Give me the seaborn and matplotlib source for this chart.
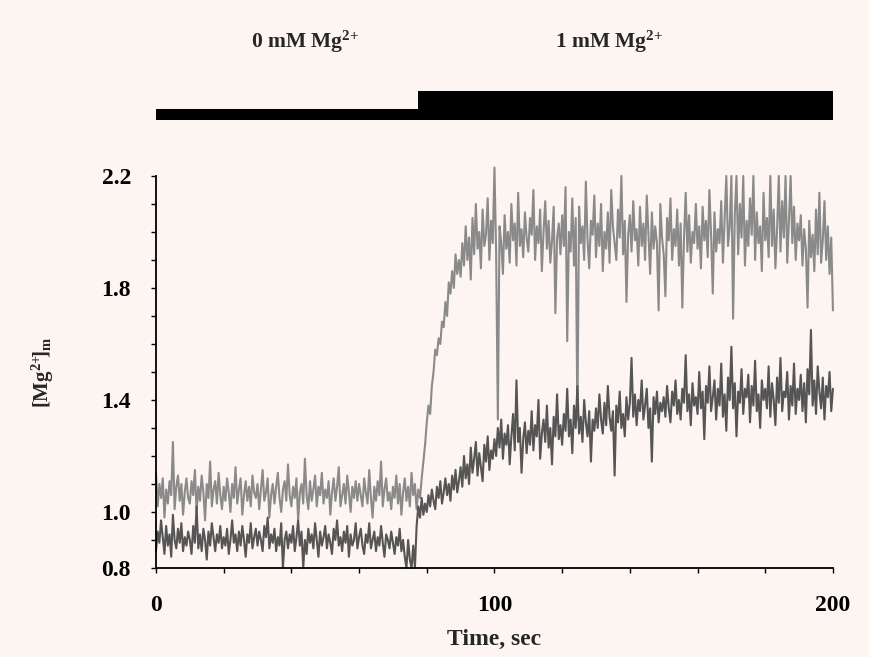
import matplotlib
matplotlib.use("Agg")
import matplotlib.pyplot as plt
import seaborn as sns
import numpy as np
import pandas as pd

# sampling: one reading every 0.5 s over 200 s
time_s = np.arange(0, 200.5, 0.5)

# upper (light) trace, [Mg2+]m
upper_trace = [
    1.14, 1.02, 1.10, 1.05, 1.12, 0.98, 1.08, 1.03, 1.11, 1.06, 1.25, 1.01, 1.09, 1.13, 1.04, 1.10, 0.99, 1.07, 1.12, 1.05,
    1.03, 1.11, 1.06, 1.15, 1.00, 1.09, 1.04, 1.13, 1.07, 0.97, 1.10, 1.05, 1.18, 1.02, 1.08, 1.11, 1.03, 1.14, 1.06, 1.01,
    1.09, 1.04, 1.12, 1.07, 1.00, 1.10, 1.05, 1.16, 1.03, 1.08, 1.12, 0.99, 1.06, 1.11, 1.04, 1.09, 1.02, 1.13, 1.07, 1.05,
    1.10, 1.01, 1.08, 1.15, 1.04, 1.07, 1.12, 0.98, 1.06, 1.10, 1.03, 1.09, 1.14, 1.05, 1.00, 1.08, 1.11, 1.04, 1.17, 1.06,
    1.02, 1.09, 1.05, 1.12, 0.97, 1.07, 1.10, 1.03, 1.19, 1.06, 1.01, 1.11, 1.04, 1.08, 1.13, 1.02, 1.09, 1.06, 1.14, 1.03,
    1.08, 1.05, 1.11, 0.99, 1.07, 1.12, 1.04, 1.09, 1.16, 1.02, 1.06, 1.10, 1.03, 1.13, 1.07, 1.00, 1.09, 1.05, 1.11, 1.04,
    1.10, 1.06, 1.02, 1.12, 1.07, 1.03, 1.15, 1.05, 0.98, 1.09, 1.04, 1.11, 1.06, 1.18, 1.02, 1.08, 1.12, 1.04, 1.07, 1.01,
    1.09, 1.05, 1.13, 1.03, 1.10, 0.99, 1.07, 1.12, 1.04, 1.09, 1.02, 1.14, 1.06, 1.10, 1.01, 1.08, 1.05, 1.12, 1.18, 1.24,
    1.32, 1.38, 1.35, 1.45, 1.50, 1.58, 1.56, 1.62, 1.60, 1.68, 1.66, 1.75, 1.70, 1.82, 1.78, 1.86, 1.80, 1.92, 1.85, 1.90,
    1.84, 1.96, 1.88, 2.02, 1.90, 1.98, 1.83, 2.05, 1.92, 2.10, 1.94, 2.00, 1.87, 2.08, 1.95, 1.99, 2.12, 1.90, 2.04, 1.96,
    2.23, 1.92, 1.33, 2.02, 1.96, 1.85, 2.06, 1.94, 2.00, 1.89, 2.10, 1.97, 2.03, 1.88, 2.14, 1.95, 2.01, 1.91, 2.07, 1.98,
    1.93, 2.05, 1.99, 2.15, 1.90, 2.02, 1.96, 2.08, 1.86, 2.00, 2.11, 1.94, 2.04, 1.89, 1.97, 2.09, 1.71, 1.98, 2.03, 1.92,
    2.06, 1.95, 2.16, 1.61, 2.00, 1.93, 2.12, 1.88, 2.05, 1.33, 2.09, 1.96, 2.02, 1.90, 2.18, 1.97, 1.87, 2.04, 1.99, 2.13,
    1.91, 2.03, 1.95, 2.10, 1.86, 2.00, 1.94, 2.07, 1.89, 2.15, 2.02, 1.96, 1.90, 2.08, 1.98, 2.20, 1.92, 2.04, 1.75, 1.99,
    2.06, 1.93, 2.11, 1.97, 2.01, 1.88, 2.09, 1.95, 2.03, 1.90, 2.13, 1.99, 1.85, 2.07, 1.94, 2.02, 1.96, 1.72, 2.10, 1.98,
    1.92, 1.77, 2.05, 1.97, 2.12, 1.90, 2.01, 1.95, 2.08, 1.88, 2.03, 1.73, 1.98, 2.14, 1.93, 2.06, 1.89, 2.00, 1.96, 2.10,
    1.94, 2.02, 1.87, 2.09, 1.97, 2.04, 1.91, 2.15, 1.99, 1.78, 2.07, 1.93, 2.01, 1.96, 2.11, 1.89, 2.05, 2.20, 1.95, 2.02,
    2.20, 1.69, 2.06, 2.20, 1.92, 2.10, 1.98, 2.20, 1.88, 2.04, 1.95, 2.12, 1.99, 2.20, 1.90, 2.07, 1.96, 2.02, 1.86, 2.14,
    1.97, 2.05, 1.91, 2.20, 1.95, 2.08, 1.87, 2.01, 2.20, 1.93, 2.11, 1.98, 2.20, 1.89, 2.04, 2.20, 1.96, 2.09, 1.90, 2.03,
    1.97, 2.06, 1.88, 2.01, 1.94, 1.73, 2.04, 1.91, 1.99, 1.86, 2.08, 1.92, 2.14, 1.89, 1.97, 2.11, 1.90, 2.02, 1.85, 1.98,
    1.72,
]

# lower (dark) trace, [Mg2+]m
lower_trace = [
    0.86, 0.93, 0.89, 0.97, 0.91, 0.85, 0.95, 0.88, 0.92, 0.84, 0.99, 0.90, 0.87, 0.94, 0.89, 0.96, 0.86, 0.91, 0.88, 0.93,
    0.90, 0.85, 0.95, 0.89, 1.02, 0.87, 0.92, 0.86, 0.94, 0.90, 0.83, 0.93, 0.88, 0.96, 0.91, 0.86, 0.92, 0.89, 0.95, 0.87,
    0.91, 0.88, 0.94, 0.85, 0.90, 0.97, 0.89, 0.92, 0.86, 0.93, 0.88, 0.95, 0.90, 0.84, 0.92, 0.89, 0.96, 0.87, 0.91, 0.94,
    0.88, 0.93, 0.90, 0.86, 0.95, 0.91, 0.98, 0.87, 0.92, 0.89, 0.94, 0.86, 0.91, 0.88, 0.96, 0.80, 0.90, 0.93, 0.87, 0.92,
    0.89, 0.95, 0.86, 0.91, 0.97, 0.88, 0.93, 0.80, 0.90, 0.85, 0.94, 0.89, 0.92, 0.87, 0.96, 0.90, 0.84, 0.93, 0.88, 0.91,
    0.95, 0.87, 0.92, 0.89, 0.85, 0.94, 0.90, 0.97, 0.88, 0.91, 0.86, 0.93, 0.89, 0.95, 0.84, 0.92, 0.88, 0.90, 0.96, 0.87,
    0.91, 0.94, 0.88, 0.85, 0.92, 0.89, 0.96, 0.87, 0.90, 0.93, 0.86, 0.91, 0.88, 0.95, 0.89, 0.84, 0.92, 0.90, 0.87, 0.93,
    0.89, 0.85, 0.91, 0.88, 0.94, 0.86, 0.90, 0.84, 0.80, 0.90, 0.83, 0.80, 0.88, 0.80, 0.95, 1.02, 0.98, 1.05, 0.99, 1.03,
    1.00, 1.06, 1.02, 1.08, 1.04, 1.01, 1.09, 1.05, 1.11, 1.03, 1.07, 1.12, 1.06, 1.10, 1.04, 1.13, 1.08, 1.15, 1.07, 1.11,
    1.16, 1.09, 1.20, 1.12, 1.17, 1.10, 1.23, 1.14, 1.19, 1.25, 1.13, 1.21, 1.16, 1.11, 1.24, 1.18, 1.27, 1.15, 1.22, 1.19,
    1.26, 1.20, 1.30, 1.23, 1.33, 1.19, 1.28, 1.24, 1.31, 1.17, 1.27, 1.35, 1.22, 1.47, 1.25, 1.30, 1.14, 1.26, 1.32, 1.21,
    1.29, 1.24, 1.36, 1.22, 1.31, 1.27, 1.40, 1.19, 1.28, 1.33, 1.25, 1.38, 1.23, 1.30, 1.17, 1.34, 1.27, 1.42, 1.26, 1.31,
    1.24, 1.35, 1.29, 1.44, 1.27, 1.33, 1.21, 1.38, 1.30, 1.45, 1.28, 1.34, 1.25, 1.40, 1.32, 1.27, 1.36, 1.18, 1.33, 1.29,
    1.37, 1.30, 1.42, 1.33, 1.28, 1.39, 1.31, 1.45, 1.34, 1.29, 1.36, 1.13, 1.38, 1.32, 1.43, 1.30, 1.35, 1.27, 1.41, 1.33,
    1.39, 1.55, 1.34, 1.42, 1.31, 1.40, 1.36, 1.47, 1.33, 1.38, 1.44, 1.30, 1.37, 1.18, 1.41, 1.35, 1.43, 1.32, 1.39, 1.36,
    1.41, 1.34, 1.45, 1.37, 1.32, 1.43, 1.38, 1.47, 1.35, 1.40, 1.33, 1.44, 1.39, 1.56, 1.36, 1.42, 1.31, 1.46, 1.38, 1.41,
    1.35, 1.50, 1.37, 1.43, 1.26, 1.45, 1.39, 1.52, 1.36, 1.41, 1.47, 1.33, 1.44, 1.38, 1.53, 1.34, 1.42, 1.29, 1.48, 1.40,
    1.59, 1.37, 1.46, 1.27, 1.43, 1.39, 1.51, 1.35, 1.44, 1.41, 1.49, 1.32, 1.45, 1.38, 1.54, 1.36, 1.42, 1.30, 1.47, 1.40,
    1.44, 1.37, 1.52, 1.34, 1.46, 1.40, 1.31, 1.48, 1.39, 1.55, 1.36, 1.43, 1.41, 1.50, 1.33, 1.45, 1.38, 1.53, 1.35, 1.44,
    1.40, 1.49, 1.36, 1.46, 1.32, 1.51, 1.42, 1.65, 1.38, 1.47, 1.35, 1.52, 1.43, 1.37, 1.48, 1.33, 1.45, 1.41, 1.50, 1.36,
    1.44,
]

# perfusion protocol bar: switch from 0 mM to 1 mM Mg2+
bar_times = [0, 77.5, 200]
bar_levels = [0.38, 1.0, 1.0]
condition_labels = ["0 mM Mg$^{2\\!+}$", "1 mM Mg$^{2\\!+}$"]
condition_centers = [44, 134]

y_ticks = [0.8, 0.9, 1.0, 1.1, 1.2, 1.3, 1.4, 1.5, 1.6, 1.7, 1.8, 1.9, 2.0, 2.1, 2.2]
y_tick_labels = ["0.8", "", "1.0", "", "", "", "1.4", "", "", "", "1.8", "", "", "", "2.2"]
x_ticks = [0, 20, 40, 60, 80, 100, 120, 140, 160, 180, 200]
x_tick_labels = ["0", "", "", "", "", "100", "", "", "", "", "200"]

BG = "#FCF5F2"

sns.set_theme(style="ticks")
plt.rcParams.update({
    "font.family": ["Liberation Serif", "DejaVu Serif"],
    "font.weight": "bold",
    "mathtext.fontset": "custom",
    "mathtext.rm": "Liberation Serif:bold",
    "mathtext.it": "Liberation Serif:bold",
    "mathtext.bf": "Liberation Serif:bold",
    "mathtext.default": "rm",
    "figure.facecolor": BG,
    "axes.facecolor": BG,
    "axes.edgecolor": "black",
})

df = pd.DataFrame({
    "time": np.concatenate([time_s, time_s]),
    "mg": upper_trace + lower_trace,
    "trace": ["upper"] * len(upper_trace) + ["lower"] * len(lower_trace),
})

fig = plt.figure(figsize=(8.69, 6.57), dpi=100)
ax = fig.add_axes([0.1795, 0.1355, 0.779, 0.5967])

sns.lineplot(
    data=df, x="time", y="mg", hue="trace",
    palette={"upper": "#8A8A8A", "lower": "#555555"},
    hue_order=["upper", "lower"],
    linewidth=1.5, legend=False, errorbar=None, estimator=None,
    ax=ax,
)
for line in ax.get_lines():
    line.set_clip_on(False)

ax.set_xlim(0, 200)
ax.set_ylim(0.8, 2.2)
ax.set_xticks(x_ticks)
ax.set_xticklabels(x_tick_labels)
ax.set_yticks(y_ticks)
ax.set_yticklabels(y_tick_labels)
ax.tick_params(axis="both", direction="out", length=3.5, width=1, color="black",
               labelsize=17, labelcolor="black")
ax.tick_params(axis="y", pad=14.5)
ax.tick_params(axis="x", pad=16)
for lab in ax.get_xticklabels() + ax.get_yticklabels():
    lab.set_fontweight("bold")
sns.despine(ax=ax)
for side in ["left", "bottom"]:
    ax.spines[side].set_linewidth(1.3)

ax.set_xlabel("Time, sec", fontsize=17, fontweight="bold", labelpad=9)
ax.set_ylabel("[Mg$^{2\\!+}\\!\\!$]$_{m}$", fontsize=15,
              fontweight="bold", labelpad=33)

# protocol bar above the traces
bar_ax = fig.add_axes([0.1795, 0.8174, 0.779, 0.0441], sharex=ax)
bar_ax.fill_between(bar_times, 0, bar_levels, step="post", color="black", linewidth=0)
bar_ax.set_ylim(0, 1)
bar_ax.axis("off")
for label, center in zip(condition_labels, condition_centers):
    bar_ax.text(center, 2.69, label, transform=bar_ax.get_xaxis_transform(),
                ha="center", va="center", fontsize=15.5, fontweight="bold")

fig.savefig("out.png", dpi=100, facecolor=BG)
